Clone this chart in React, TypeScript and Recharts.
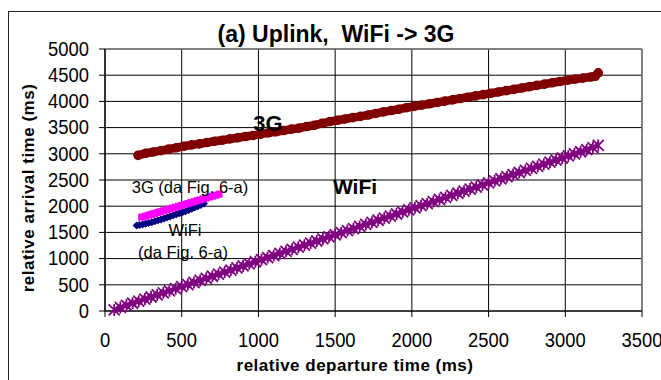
import React from "react";
import {
  ScatterChart,
  Scatter,
  XAxis,
  YAxis,
  CartesianGrid,
  ReferenceLine,
} from "recharts";

// ---- data ----
const g3X = [215,265,315,365,415,465,515,565,615,665,715,765,815,865,915,965,1015,1065,1115,1165,1215,1265,1315,1365,1415,1465,1515,1565,1615,1665,1715,1765,1815,1865,1915,1965,2015,2065,2115,2165,2215,2265,2315,2365,2415,2465,2515,2565,2615,2665,2715,2765,2815,2865,2915,2965,3015,3065,3115,3165,3195,3215];
const g3Y = [2970,3010,3035,3060,3090,3115,3145,3170,3190,3215,3240,3260,3285,3305,3330,3350,3375,3400,3420,3445,3470,3490,3520,3545,3580,3615,3640,3665,3690,3715,3740,3770,3800,3825,3850,3880,3905,3930,3955,3980,4005,4030,4055,4080,4105,4130,4155,4180,4205,4230,4255,4280,4305,4330,4355,4380,4405,4425,4445,4465,4480,4545];

const wifiX = [60,100,140,180,220,260,300,340,380,420,460,500,540,580,620,660,700,740,780,820,860,900,940,980,1020,1060,1100,1140,1180,1220,1260,1300,1340,1380,1420,1460,1500,1540,1580,1620,1660,1700,1740,1780,1820,1860,1900,1940,1980,2020,2060,2100,2140,2180,2220,2260,2300,2340,2380,2420,2460,2500,2540,2580,2620,2660,2700,2740,2780,2820,2860,2900,2940,2980,3020,3060,3100,3140,3180,3215];
const wifiY = [20,69,109,148,188,227,267,307,346,386,425,465,505,544,584,623,663,703,742,782,821,861,901,940,980,1019,1059,1099,1138,1178,1217,1257,1297,1336,1376,1415,1455,1495,1534,1574,1613,1653,1693,1732,1772,1811,1851,1891,1930,1970,2009,2049,2089,2128,2168,2207,2247,2287,2326,2366,2405,2445,2485,2524,2564,2603,2643,2683,2722,2762,2801,2841,2881,2920,2960,2999,3039,3079,3118,3160];

const fig3GX = [239,260,280,300,320,340,360,380,400,420,440,460,480,500,520,540,560,580,600,620,640,660,680,700,720,743];
const fig3GY = [1790,1808,1826,1843,1860,1878,1895,1913,1930,1947,1965,1982,2000,2017,2034,2052,2069,2087,2104,2121,2139,2156,2174,2191,2208,2230];

const figWifiX = [206,225,245,265,285,305,325,345,365,385,405,425,445,465,485,505,525,545,565,585,605,625,645];
const figWifiY = [1630,1640,1652,1665,1680,1695,1712,1730,1748,1766,1785,1805,1825,1845,1865,1885,1905,1927,1950,1975,2000,2025,2050];

const xTicks = [0, 500, 1000, 1500, 2000, 2500, 3000, 3500];
const yTicks = [0, 500, 1000, 1500, 2000, 2500, 3000, 3500, 4000, 4500, 5000];

const zip = (xs: number[], ys: number[]) => xs.map((x, i) => ({ x, y: ys[i] }));
const data3G = zip(g3X, g3Y);
const dataWifi = zip(wifiX, wifiY);
const dataFig3G = zip(fig3GX, fig3GY);
const dataFigWifi = zip(figWifiX, figWifiY);

const FONT = "'Liberation Sans', Arial, sans-serif";

const YTick = (props: any) => {
  const { x, y, payload } = props;
  return (
    <g transform={`translate(${x},${y})`}>
      <text textAnchor="end" transform="scale(0.92,1.05)" dy={6.5} fontSize={20} fill="#000" fontFamily={FONT}>
        {payload.value}
      </text>
    </g>
  );
};

const XTick = (props: any) => {
  const { x, y, payload } = props;
  return (
    <g transform={`translate(${x},${y})`}>
      <text textAnchor="middle" transform="scale(0.92,1.05)" dy={27} fontSize={20} fill="#000" fontFamily={FONT}>
        {payload.value}
      </text>
    </g>
  );
};

const circleShape = (p: any) => <circle cx={p.cx} cy={p.cy} r={4.8} fill="#800000" />;
const starShape = (p: any) => {
  const { cx, cy } = p;
  const s = 5.5;
  return (
    <path
      d={`M${cx - s},${cy - s}L${cx + s},${cy + s}M${cx - s},${cy + s}L${cx + s},${cy - s}M${cx},${cy - s - 0.5}L${cx},${cy + s + 0.5}`}
      stroke="#800080"
      strokeWidth={1.8}
      fill="none"
    />
  );
};
const squareShape = (p: any) => <rect x={p.cx - 3.5} y={p.cy - 3.5} width={7} height={7} fill="#FF00FF" />;
const diamondShape = (p: any) => {
  const { cx, cy } = p;
  return <path d={`M${cx},${cy - 4}L${cx + 4},${cy}L${cx},${cy + 4}L${cx - 4},${cy}Z`} fill="#000080" />;
};

export default function App() {
  return (
    <div style={{ position: "relative", width: 661, height: 380, overflow: "hidden", background: "#fff" }}>
      <style>{"body{margin:0;overflow:hidden;}"}</style>
      <div
        style={{
          position: "absolute",
          left: 7.5,
          top: 11,
          width: 1000,
          height: 1000,
          borderLeft: "1.5px solid #222",
          borderTop: "1.5px solid #222",
        }}
      />
      <div style={{ position: "absolute", left: 0, top: 0 }}>
        <ScatterChart width={661} height={380} margin={{ top: 49, right: 19, bottom: 24, left: 0 }}>
          <CartesianGrid stroke="#000" strokeWidth={1} />
          <XAxis
            type="number"
            dataKey="x"
            domain={[0, 3500]}
            ticks={xTicks}
            interval={0}
            tick={<XTick />}
            tickSize={6}
            height={45}
            axisLine={{ stroke: "#000", strokeWidth: 1.2 }}
            tickLine={{ stroke: "#000" }}
          />
          <YAxis
            type="number"
            dataKey="y"
            domain={[0, 5000]}
            ticks={yTicks}
            interval={0}
            tick={<YTick />}
            tickSize={6}
            tickMargin={10}
            width={105}
            axisLine={{ stroke: "#000", strokeWidth: 1.2 }}
            tickLine={{ stroke: "#000" }}
          />
          <ReferenceLine y={5000} stroke="#808080" strokeWidth={1.5} />
          <ReferenceLine x={3500} stroke="#808080" strokeWidth={1.5} />
          <Scatter
            data={dataWifi}
            shape={starShape}
            line={{ stroke: "#800080", strokeWidth: 4 }}
            lineType="joint"
            isAnimationActive={false}
          />
          <Scatter
            data={data3G}
            shape={circleShape}
            line={{ stroke: "#800000", strokeWidth: 8.5 }}
            lineType="joint"
            isAnimationActive={false}
          />
          <Scatter
            data={dataFigWifi}
            shape={diamondShape}
            line={{ stroke: "#000080", strokeWidth: 5 }}
            lineType="joint"
            isAnimationActive={false}
          />
          <Scatter
            data={dataFig3G}
            shape={squareShape}
            line={{ stroke: "#FF00FF", strokeWidth: 6 }}
            lineType="joint"
            isAnimationActive={false}
          />
        </ScatterChart>
      </div>
      <svg
        width={661}
        height={380}
        style={{ position: "absolute", left: 0, top: 0, pointerEvents: "none" }}
        fontFamily={FONT}
      >
        <text x={336} y={42} textAnchor="middle" fontSize={23} fontWeight="bold" fill="#000">
          {"(a) Uplink,\u00A0 WiFi -> 3G"}
        </text>
        <text x={268} y={131} textAnchor="middle" fontSize={22} fontWeight="bold" fill="#000">3G</text>
        <text x={355} y={194} textAnchor="middle" fontSize={21} fontWeight="bold" fill="#000">WiFi</text>
        <text x={190} y={193} textAnchor="middle" fontSize={16.5} fill="#000">3G (da Fig. 6-a)</text>
        <text x={185} y={236} textAnchor="middle" fontSize={16.5} fill="#000">WiFi</text>
        <text x={183} y={258} textAnchor="middle" fontSize={16.5} fill="#000">(da Fig. 6-a)</text>
        <text x={355} y={371} textAnchor="middle" fontSize={17} fontWeight="bold" letterSpacing={0.5} fill="#000">
          relative departure time (ms)
        </text>
        <text
          transform="translate(34,188) rotate(-90)"
          textAnchor="middle"
          fontSize={17}
          fontWeight="bold"
          letterSpacing={0.5}
          fill="#000"
        >
          relative arrival time (ms)
        </text>
      </svg>
    </div>
  );
}
